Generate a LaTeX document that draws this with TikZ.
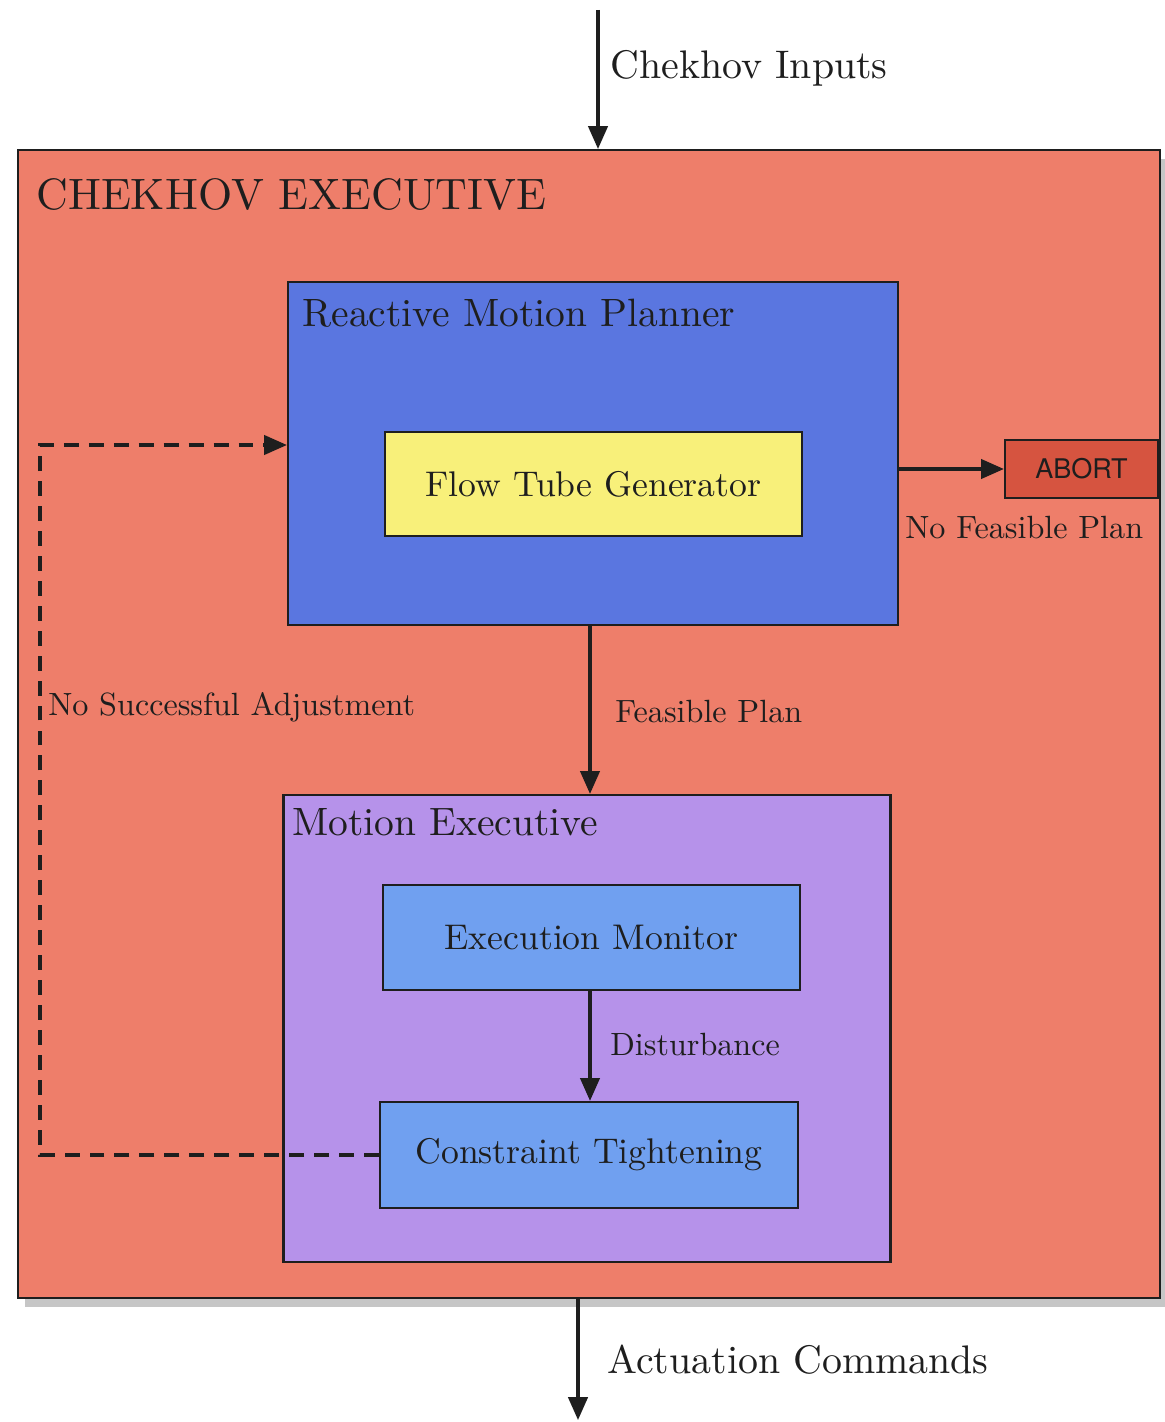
\documentclass[tikz,border=0pt]{standalone}
\usepackage{fontspec}
\setmainfont{lmroman10-regular}[Extension=.otf]
\newfontfamily\abortfont{TeX Gyre Heros}
\usetikzlibrary{arrows.meta,shadows,calc}
\definecolor{salmon}{RGB}{238,126,106}
\definecolor{rmpblue}{RGB}{90,118,224}
\definecolor{ftyellow}{RGB}{248,240,122}
\definecolor{lavender}{RGB}{182,146,234}
\definecolor{lightblue}{RGB}{112,160,240}
\definecolor{abortred}{RGB}{214,84,64}
\definecolor{ink}{RGB}{30,30,30}
\tikzset{
  box/.style={draw=ink,line width=1.3pt,rectangle,inner sep=0pt},
  arr/.style={draw=ink,line width=1.8pt,-{Triangle[length=13pt,width=11pt]}},
  dsh/.style={draw=ink,line width=1.8pt,dash pattern=on 8.5pt off 5.7pt,-{Triangle[length=13pt,width=11pt]}},
  lbl/.style={text=ink,inner sep=0pt,anchor=west},
  big/.style={font=\fontsize{22.7}{26}\selectfont},
  ttl/.style={font=\fontsize{22.5}{26}\selectfont},
  inn/.style={font=\fontsize{20.3}{24}\selectfont},
  edg/.style={font=\fontsize{18.3}{22}\selectfont},
}
\begin{document}
\begin{tikzpicture}[x=0.02cm,y=-0.02cm]
\useasboundingbox (0,0) rectangle (1164,1422);
% outer
\node[box,fill=salmon,drop shadow={shadow xshift=4pt,shadow yshift=-5pt,opacity=0.45},minimum width=22.84cm,minimum height=22.96cm] (outer) at (589,724) {};
\node[lbl,font=\fontsize{25}{29}\selectfont] (outertitle) at (36,195) {CHEKHOV EXECUTIVE};
% reactive motion planner
\node[box,fill=rmpblue,minimum width=12.2cm,minimum height=6.86cm] (rmp) at (593,453.5) {};
\node[lbl,ttl] (rmptitle) at (302,313) {Reactive Motion Planner};
\node[box,fill=ftyellow,minimum width=8.34cm,minimum height=2.08cm,text=ink,inn] (ftg) at (593.5,484) {Flow Tube Generator};
% abort
\node[box,fill=abortred,minimum width=3.06cm,minimum height=1.16cm,text=ink,font=\abortfont\fontsize{15.4}{18}\selectfont] (abort) at (1081.5,469) {ABORT};
% motion executive
\node[box,fill=lavender,minimum width=12.14cm,minimum height=9.34cm] (me) at (587,1028.5) {};
\node[lbl,ttl] (metitle) at (292,822) {Motion Executive};
\node[box,fill=lightblue,minimum width=8.34cm,minimum height=2.1cm,text=ink,inn] (em) at (591.5,937.5) {Execution Monitor};
\node[box,fill=lightblue,minimum width=8.36cm,minimum height=2.12cm,text=ink,inn] (ct) at (589,1155) {Constraint Tightening};
% external coordinates
\coordinate (inp) at (598,10);
\coordinate (outp) at (578,1420);
\coordinate (fbk) at (40,445);
% connectors
\draw[arr] (inp) -- (inp |- outer.north);
\draw[arr] (outer.south -| outp) -- (outp);
\draw[arr] (rmp.east |- abort.west) -- (abort.west);
\draw[arr] (rmp.south -| 590,0) -- (me.north -| 590,0);
\draw[arr] (em.south -| 590,0) -- (ct.north -| 590,0);
\draw[dsh] (ct.west) -| (fbk) -- (fbk -| rmp.west);
% labels
\node[lbl,big] (inlbl) at (610,68) {Chekhov Inputs};
\node[lbl,big] (outlbl) at (607,1360) {Actuation Commands};
\node[lbl,edg] (nfp) at (905,528) {No Feasible Plan};
\node[lbl,edg] (fp) at (615,712) {Feasible Plan};
\node[lbl,edg] (nsa) at (48,707) {No Successful Adjustment};
\node[lbl,edg] (dist) at (610,1045) {Disturbance};
\end{tikzpicture}
\end{document}
